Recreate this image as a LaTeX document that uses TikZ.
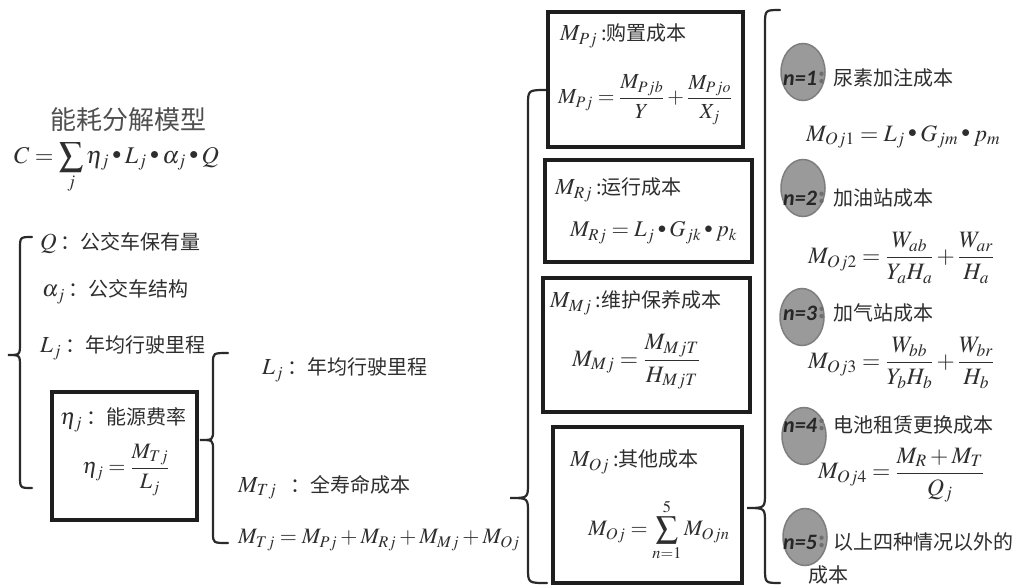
\documentclass[tikz,border=0pt]{standalone}
\usepackage{amsmath}
\usepackage{mathptmx}
\usepackage{graphicx}
\usepackage{fontspec}
\usetikzlibrary{shapes.geometric}
\newfontfamily\cn{Noto Sans CJK SC}
\newfontfamily\nfont{Carlito}
\definecolor{txt}{HTML}{2E2E2E}
\definecolor{ttl}{HTML}{505050}
\definecolor{boxc}{HTML}{1E1E1E}
\definecolor{brcc}{HTML}{2A2A2A}
\definecolor{circf}{HTML}{9A9A9A}
\definecolor{circd}{HTML}{7E7E7E}
\definecolor{colc}{HTML}{6E6E6E}
\newcommand\zh{\cn\fontsize{20}{24}\selectfont}
\newcommand\dotop{\mathbin{\raisebox{0.35ex}{\scalebox{0.75}{$\bullet$}}}}
\newcommand\mybrace[7]{\draw[brc] (#1,#4) .. controls (#2,#4) .. (#2,#4+#7) -- (#2,#5-#7) .. controls (#2,#5) .. (#3,#5) .. controls (#2,#5) .. (#2,#5+#7) -- (#2,#6-#7) .. controls (#2,#6) .. (#1,#6);}
\begin{document}
\begin{tikzpicture}[x=1pt,y=-1pt,
 every node/.style={inner sep=0pt, text=txt},
 lbl/.style={anchor=west, font=\fontsize{23}{27}\selectfont},
 fml/.style={anchor=west, font=\fontsize{23.5}{28}\selectfont},
 boxst/.style={draw=boxc, line width=4.5pt},
 brc/.style={draw=brcc, line width=2.2pt, line cap=round},
 circ/.style={ellipse, draw=circd, fill=circf, line width=1.5pt, minimum width=44pt, minimum height=57pt},
 nlab/.style={font=\nfont\bfseries\itshape\fontsize{22}{24}\selectfont, text=black!85},
 coln/.style={anchor=west, font=\cn\bfseries\fontsize{20}{22}\selectfont, text=colc},
]
\fill[white] (0,0) rectangle (1032,587);
\useasboundingbox (0,0) rectangle (1032,587);

% ---- left part
\node[text=ttl, font=\cn\fontsize{26}{30}\selectfont] (title) at (128,120) {能耗分解模型};
\node[lbl, font=\fontsize{24}{28}\selectfont] (cf) at (14,168) {$\displaystyle C=\sum_{j}\eta_j\dotop L_j\dotop\alpha_j\dotop Q$};

\mybrace{32}{20}{8}{237}{355}{488}{12}
\node[lbl] (iQ) at (40,243) {$Q$\,{\zh：公交车保有量}};
\node[lbl] (ia) at (42,292) {$\alpha_j$\,{\zh：公交车结构}};
\node[lbl] (iL) at (40,348) {$L_j$\,{\zh：年均行驶里程}};

\node[boxst, minimum width=145pt, minimum height=128pt] (bE) at (124.5,456) {};
\node[lbl] (eT) at (60,420) {$\eta_j$\,{\zh：能源费率}};
\node[font=\fontsize{22}{26}\selectfont] (eF) at (126,470) {$\eta_j=\dfrac{M_{Tj}}{L_j}$};

\mybrace{228}{213}{200}{353}{440}{543}{10}
\node[lbl] (iL2) at (262,370) {$L_j$\,{\zh：年均行驶里程}};
\node[lbl] (iM) at (238,487) {$M_{Tj}$\ \ {\zh：全寿命成本}};
\node[lbl, font=\fontsize{22}{26}\selectfont] (iMF) at (238,540) {$M_{Tj}=M_{Pj}+M_{Rj}+M_{Mj}+M_{Oj}$};

\mybrace{547}{528}{510}{90}{498}{583}{15}

% ---- boxes
\node[boxst, minimum width=195pt, minimum height=135pt] (bP) at (645.5,79.5) {};
\node[lbl] (pT) at (560,36) {$M_{Pj}$\,{\zh:购置成本}};
\node[fml, font=\fontsize{21.5}{26}\selectfont] (pF) at (558,100) {$M_{Pj}=\dfrac{M_{Pjb}}{Y}+\dfrac{M_{Pjo}}{X_j}$};

\node[boxst, minimum width=207pt, minimum height=102pt] (bR) at (648.5,211) {};
\node[lbl] (rT) at (555,190) {$M_{Rj}$\,{\zh:运行成本}};
\node[fml, font=\fontsize{22.5}{27}\selectfont] (rF) at (570,233) {$M_{Rj}=L_j\dotop G_{jk}\dotop p_k$};

\node[boxst, minimum width=207pt, minimum height=134pt] (bM) at (646.5,345) {};
\node[lbl] (mT) at (550,303) {$M_{Mj}$\,{\zh:维护保养成本}};
\node[fml] (mF) at (572,362) {$M_{Mj}=\dfrac{M_{MjT}}{H_{MjT}}$};

\node[boxst, minimum width=189pt, minimum height=156pt] (bO) at (647.5,505) {};
\node[lbl] (oT) at (570,462) {$M_{Oj}$\,{\zh:其他成本}};
\node[fml, font=\fontsize{22}{26}\selectfont] (oF) at (588,530) {$M_{Oj}=\displaystyle\sum_{n=1}^{5}M_{Ojn}$};

\mybrace{780}{765}{747}{10}{508}{583}{15}

% ---- right list
\node[circ] (c1) at (803,72) {};
\node[circ] (c2) at (803,188) {};
\node[circ] (c3) at (802,317) {};
\node[circ] (c4) at (804,436) {};
\node[circ] (c5) at (805,537) {};
\node[nlab, anchor=west] (n1) at (783,78) {n=1};
\node[nlab, anchor=west] (n2) at (783,198) {n=2};
\node[nlab, anchor=west] (n3) at (783,313) {n=3};
\node[nlab, anchor=west] (n4) at (783,425) {n=4};
\node[nlab, anchor=west] (n5) at (783,542) {n=5};
\node[coln] (k1) at ([xshift=1pt]n1.east) {:};
\node[coln] (k2) at ([xshift=1pt]n2.east) {:};
\node[coln] (k3) at ([xshift=1pt]n3.east) {:};
\node[coln] (k4) at ([xshift=1pt]n4.east) {:};
\node[coln] (k5) at ([xshift=1pt]n5.east) {:};
\node[anchor=west, font=\zh] (t1) at (833,78) {尿素加注成本};
\node[anchor=west, font=\zh] (t2) at (833,198) {加油站成本};
\node[anchor=west, font=\zh] (t3) at (833,313) {加气站成本};
\node[anchor=west, font=\zh] (t4) at (833,425) {电池租赁更换成本};
\node[anchor=west, font=\zh] (t5) at (833,542) {以上四种情况以外的};
\node[anchor=west, font=\zh] (t5b) at (808,575) {成本};
\node[fml] (f1) at (806,137) {$M_{Oj1}=L_j\dotop G_{jm}\dotop p_m$};
\node[fml] (f2) at (808,258) {$M_{Oj2}=\dfrac{W_{ab}}{Y_aH_a}+\dfrac{W_{ar}}{H_a}$};
\node[fml] (f3) at (808,363) {$M_{Oj3}=\dfrac{W_{bb}}{Y_bH_b}+\dfrac{W_{br}}{H_b}$};
\node[fml] (f4) at (818,475) {$M_{Oj4}=\dfrac{M_R+M_T}{Q_j}$};
\end{tikzpicture}
\end{document}
